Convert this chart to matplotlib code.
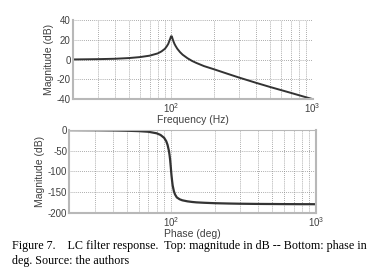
import numpy as np
import matplotlib
matplotlib.use("Agg")
import matplotlib.pyplot as plt
from matplotlib.ticker import LogLocator, NullFormatter, FixedLocator, FixedFormatter

# values
freq = [20, 30, 40, 50, 60, 70, 80, 85, 90, 93, 95, 97, 98, 99, 100, 101, 102, 103,
        105, 107, 110, 115, 120, 130, 140, 150, 170, 200, 250, 300, 400, 500, 600,
        700, 800, 900, 1000]
mag_db = [0.2, 0.5, 0.9, 1.6, 2.6, 4.0, 6.3, 8.3, 11.0, 13.8, 16.0, 19.5, 21.0, 23.0,
          24.0, 22.8, 20.8, 19.0, 16.0, 13.8, 11.0, 7.6, 5.0, 1.4, -1.3, -3.3, -6.5,
          -9.7, -14.3, -18.0, -23.5, -27.6, -30.8, -33.5, -35.9, -38.0, -39.8]
phase_deg = [-0.3, -0.6, -1.1, -1.8, -2.7, -4.2, -8, -12, -19, -27, -36, -50, -60, -73,
             -90, -108, -122, -134, -148, -156, -163, -167.5, -170, -172.5, -174, -175,
             -176, -177, -177.8, -178.3, -178.8, -179, -179.2, -179.3, -179.4, -179.4, -179.5]

mag_ticks = [-40, -20, 0, 20, 40]
phase_ticks = [-200, -150, -100, -50, 0]

W, H = 371, 274
plt.rcParams['font.family'] = ['Liberation Sans', 'DejaVu Sans']
plt.rcParams['axes.unicode_minus'] = False
plt.rcParams['mathtext.fontset'] = 'custom'
plt.rcParams['mathtext.rm'] = 'Liberation Sans'
plt.rcParams['mathtext.it'] = 'Liberation Sans'
fig = plt.figure(figsize=(W / 100, H / 100), dpi=100)

ax1 = fig.add_axes([72.7 / W, 1 - 99.3 / H, 240 / W, 79.3 / H])
ax2 = fig.add_axes([69.3 / W, 1 - 212.7 / H, 246.7 / W, 82.7 / H])

line_col = '#333333'
spine_col = '#b8b8b8'
text_col = '#404040'


def style(ax, yticks, xlabel, right_spine):
    ax.set_xscale('log')
    ax.set_xlim(20, 1000)
    ax.set_ylim(yticks[0], yticks[-1])
    ax.set_yticks(yticks)
    ax.xaxis.set_major_locator(FixedLocator([100, 1000]))
    ax.xaxis.set_major_formatter(FixedFormatter([r'$\mathregular{10^2}$', r'$\mathregular{10^3}$']))
    ax.xaxis.set_minor_locator(LogLocator(base=10, subs=np.arange(2, 10)))
    ax.xaxis.set_minor_formatter(NullFormatter())
    ax.grid(True, which='major', axis='both', ls=(0, (1, 1.5)), color='#909090', lw=0.6)
    ax.grid(True, which='minor', axis='x', ls=(0, (1, 1.5)), color='#909090', lw=0.6)
    for s in ['top', 'right']:
        ax.spines[s].set_visible(False)
    if right_spine:
        ax.spines['right'].set_visible(True)
        ax.spines['right'].set_color(spine_col)
        ax.spines['right'].set_linewidth(1.5)
        ax.spines['top'].set_visible(True)
        ax.spines['top'].set_color(spine_col)
    for s in ['left', 'bottom']:
        ax.spines[s].set_color(spine_col)
        ax.spines[s].set_linewidth(1.5)
    ax.tick_params(which='both', direction='in', length=0, labelsize=7,
                   colors=text_col, pad=1.5)
    ax.set_ylabel('Magnitude (dB)', fontsize=7.5, color=text_col, labelpad=2)
    ax.set_xlabel(xlabel, fontsize=7.5, color=text_col, labelpad=0)


ax1.plot(freq, mag_db, color=line_col, lw=1.4, solid_joinstyle='miter')
style(ax1, mag_ticks, 'Frequency (Hz)', False)

ax2.plot(freq, phase_deg, color=line_col, lw=1.6)
style(ax2, phase_ticks, 'Phase (deg)', True)

cap = dict(family=['Liberation Serif', 'DejaVu Serif'], fontsize=8.7, color='black', va='center')
fig.text(12 / W, 1 - 245.7 / H,
         'Figure 7.    LC filter response.  Top: magnitude in dB -- Bottom: phase in', **cap)
fig.text(12 / W, 1 - 260.7 / H, 'deg. Source: the authors', **cap)

fig.savefig('out.png', dpi=100)
